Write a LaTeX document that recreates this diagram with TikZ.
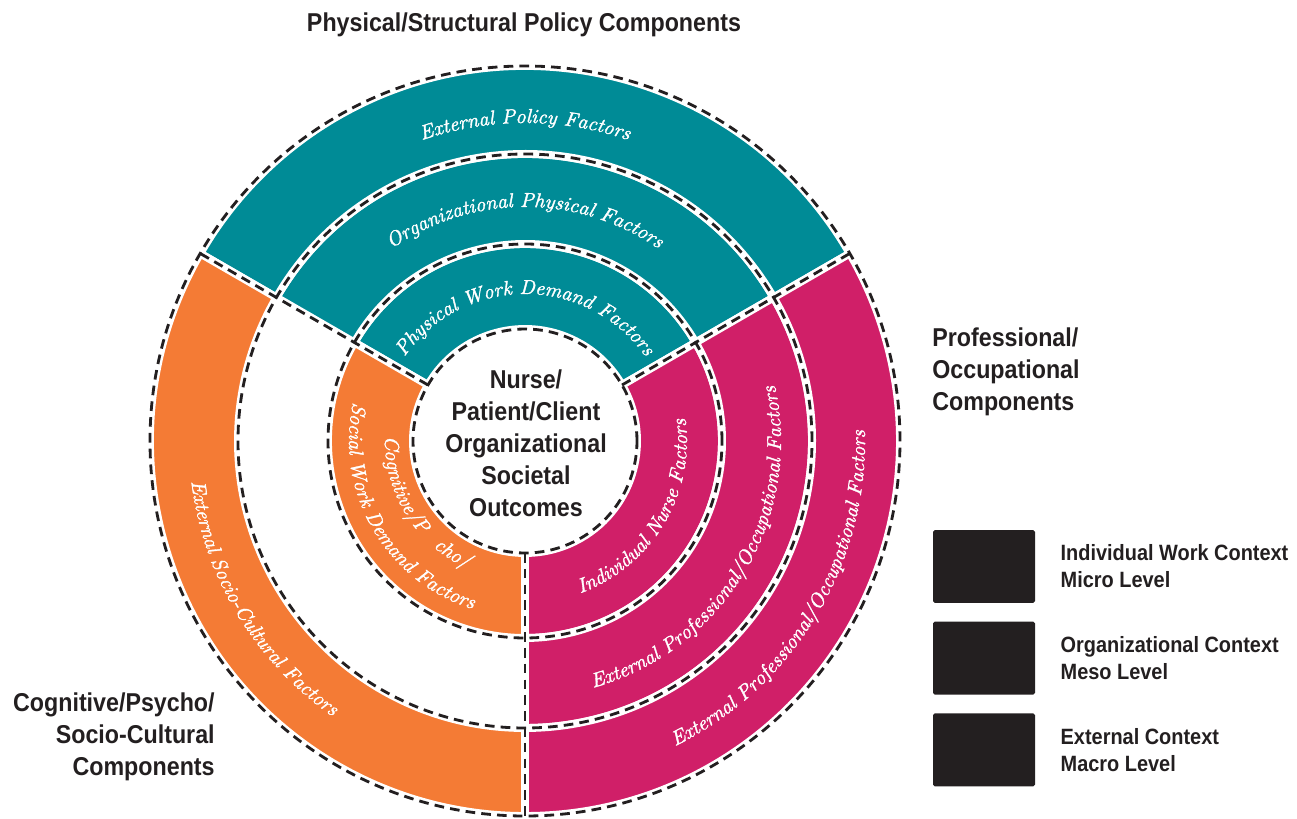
\documentclass[tikz,border=0pt]{standalone}
\usepackage{fontspec}
\newfontfamily\headfont{Liberation Sans}[FakeStretch=0.9]
\newfontfamily\ringfam{lmroman10-italic}[Extension=.otf, FakeBold=1.6]
\usetikzlibrary{positioning,decorations.text}

\definecolor{tealring}{HTML}{008B96}
\definecolor{orangering}{HTML}{F47B35}
\definecolor{pinkring}{HTML}{D01F68}
\definecolor{legdark}{HTML}{231F20}

\newcommand{\ringfont}{\ringfam\fontsize{11.5}{13}\selectfont\color{white}}
% colour, inner radius, outer radius, start angle, end angle
\newcommand{\ringsector}[5]{%
  \path[fill=#1, gapline] (#4:#2) -- (#4:#3)
    arc[start angle=#4, end angle=#5, radius=#3] -- (#5:#2)
    arc[start angle=#5, end angle=#4, radius=#2] -- cycle;}

\begin{document}
\begin{tikzpicture}[x=0.02cm, y=0.02cm,
  gapline/.style={draw=white, line width=4.5pt, line join=round},
  dashline/.style={draw=legdark, line width=1.6pt, dash pattern=on 5.5pt off 3.5pt},
  ringtext/.style={decorate, decoration={text along path, text align=center, text={|\ringfont|#1}}},
  ringtextl/.style={decorate, decoration={text along path, text align=left, text={|\ringfont|#1}}},
  headtext/.style={font=\headfont\bfseries\fontsize{14.7}{18.2}\selectfont, text=legdark, inner sep=0},
  legbox/.style={fill=legdark, minimum width=2.04cm, minimum height=1.46cm, rounded corners=1pt, inner sep=0},
  legtext/.style={font=\headfont\bfseries\fontsize{12.6}{15.4}\selectfont, text=legdark, align=left, inner sep=0}]
  \useasboundingbox (-525,-377) rectangle (772,441);

  % rings: micro, meso, macro
  \ringsector{tealring}{112}{197}{30}{150}
  \ringsector{orangering}{112}{197}{150}{270}
  \ringsector{pinkring}{112}{197}{-90}{30}
  \ringsector{tealring}{197}{287}{30}{150}
  \ringsector{pinkring}{197}{287}{-90}{30}
  \ringsector{tealring}{287}{375}{30}{150}
  \ringsector{orangering}{287}{375}{150}{270}
  \ringsector{pinkring}{287}{375}{-90}{30}

  % dashed borders
  \foreach \r in {112,197,287,375}
    \draw[dashline] (0,0) circle[radius=\r];
  \foreach \a in {30,150,270}
    \draw[dashline] (\a:112) -- (\a:375);

  % ring labels
  \path[ringtext={External Policy Factors}] (150:318) arc[start angle=150, end angle=30, radius=318];
  \path[ringtext={Organizational Physical Factors}] (160:234) arc[start angle=160, end angle=20, radius=234];
  \path[ringtext={Physical Work Demand Factors}] (175:147) arc[start angle=175, end angle=5, radius=147];
  \path[ringtext={Individual Nurse Factors}] (-111:162) arc[start angle=-111, end angle=49, radius=162];
  \path[ringtext={External Professional/Occupational Factors}] (-121:256) arc[start angle=-121, end angle=59, radius=256];
  \path[ringtext={External Professional/Occupational Factors}] (-121:340) arc[start angle=-121, end angle=59, radius=340];
  \path[ringtext={External Socio-Cultural Factors}] (131:336) arc[start angle=131, end angle=291, radius=336];
  \path[ringtext={Social Work Demand Factors}] (130:176) arc[start angle=130, end angle=290, radius=176];
  \path[ringtextl={Cognitive/P}] (178:140) arc[start angle=178, end angle=226, radius=140];
  \path[ringtextl={cho/}] (229:140) arc[start angle=229, end angle=260, radius=140];

  % headings
  \node[headtext, align=center] (title) at (-1,416) {Physical/Structural Policy Components};
  \node[headtext, align=center] (outcomes) at (1,-2) {Nurse/\\Patient/Client\\Organizational\\Societal\\Outcomes};
  \node[headtext, align=left, anchor=west] (profcomp) at (407,69) {Professional/\\Occupational\\Components};
  \node[headtext, align=right, anchor=east] (cogcomp) at (-310,-296) {Cognitive/Psycho/\\Socio-Cultural\\Components};

  % legend
  \node[legbox] (micro) at (459,-125.5) {};
  \node[legbox, below=0.36cm of micro] (meso) {};
  \node[legbox, below=0.36cm of meso] (macro) {};
  \node[legtext, right=0.5cm of micro] (microtext) {Individual Work Context\\Micro Level};
  \node[legtext, right=0.5cm of meso] (mesotext) {Organizational Context\\Meso Level};
  \node[legtext, right=0.5cm of macro] (macrotext) {External Context\\Macro Level};
\end{tikzpicture}
\end{document}
